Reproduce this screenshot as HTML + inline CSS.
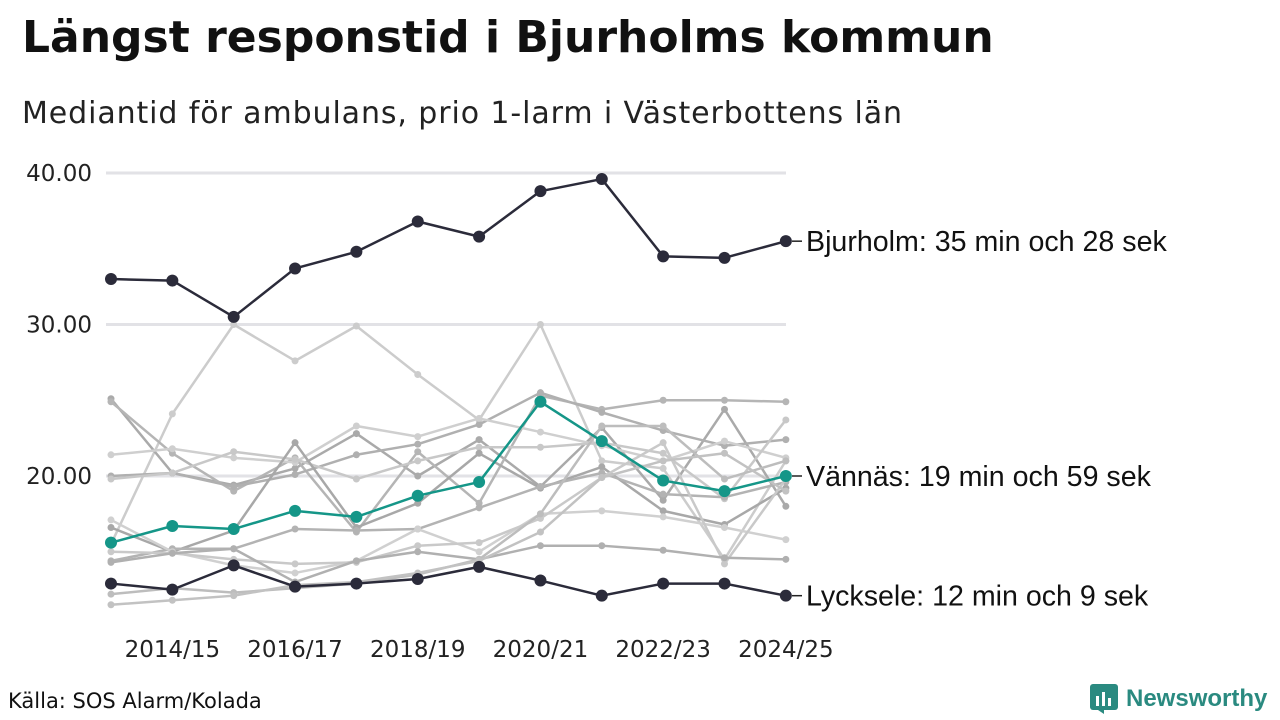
<!DOCTYPE html>
<html><head><meta charset="utf-8">
<style>
body{margin:0;width:1280px;height:720px;background:#fff;font-family:"Liberation Sans",sans-serif;overflow:hidden;position:relative}
#title{position:absolute;left:22px;top:12px;font-family:"DejaVu Sans",sans-serif;font-size:44px;font-weight:bold;color:#111;white-space:nowrap}
#sub{position:absolute;left:22px;top:96px;font-family:"DejaVu Sans",sans-serif;font-size:30px;letter-spacing:0.9px;color:#222;white-space:nowrap}
#src{position:absolute;left:8px;top:689px;font-family:"DejaVu Sans",sans-serif;font-size:21px;color:#111}
#logo{position:absolute;left:1090px;top:684px;font-size:24px;font-weight:bold;color:#2a8a80;display:flex;align-items:center;gap:8px}
svg{position:absolute;left:0;top:0}
</style></head><body>
<div id="title">Längst responstid i Bjurholms kommun</div>
<div id="sub">Mediantid för ambulans, prio 1-larm i Västerbottens län</div>
<div id="src">Källa: SOS Alarm/Kolada</div>
<div id="logo"><svg style="position:static" width="28" height="30" viewBox="0 0 28 30"><rect x="0" y="0" width="28" height="26" rx="3" fill="#2a8a80"/><rect x="6" y="12" width="3" height="10" fill="#fff"/><rect x="12" y="8" width="3" height="14" fill="#fff"/><rect x="18" y="14" width="3" height="8" fill="#fff"/><path d="M8 26 L14 30 L14 26Z" fill="#2a8a80"/></svg><span>Newsworthy</span></div>
<svg id="chart" width="1280" height="720"></svg>
<script>
const categories=["2013/14","2014/15","2015/16","2016/17","2017/18","2018/19","2019/20","2020/21","2021/22","2022/23","2023/24","2024/25"];
const yTicks=[20,30,40];
const yTickLabels=["20.00","30.00","40.00"];
const xTickIdx=[1,3,5,7,9,11];
const bjurholm=[33.0,32.9,30.5,33.7,34.8,36.8,35.8,38.8,39.6,34.5,34.4,35.5];
const vannas=[15.6,16.7,16.5,17.7,17.3,18.7,19.6,24.9,22.3,19.7,19.0,20.0];
const lycksele=[12.9,12.5,14.1,12.7,12.9,13.2,14.0,13.1,12.1,12.9,12.9,12.1];
const g1=[15.5,24.1,30.0,27.6,29.9,26.7,23.7,30.0,21.0,20.5,14.5,21.0];
const g2=[25.1,20.2,19.4,20.5,22.8,20.0,22.4,19.3,23.2,18.4,24.4,18.0];
const g3=[24.9,21.5,19.0,21.2,16.3,21.6,18.2,25.3,24.4,25.0,25.0,24.9];
const g4=[20.0,20.2,19.3,20.1,21.4,22.1,23.4,25.5,24.2,23.0,22.0,22.4];
const g5=[21.4,21.8,21.2,20.9,23.3,22.6,23.8,22.9,22.0,21.0,22.3,21.2];
const g6=[19.8,20.2,21.6,21.1,19.8,21.0,21.9,21.9,22.2,21.5,18.5,23.7];
const g7=[16.6,15.0,16.4,22.2,16.6,18.2,21.5,19.2,20.6,17.7,16.8,19.2];
const g8=[14.4,15.2,15.2,16.5,16.4,16.5,17.9,19.3,20.2,18.8,18.6,19.6];
const g9=[17.1,15.0,14.1,13.6,14.4,16.5,15.0,17.5,17.7,17.3,16.6,15.8];
const g10=[15.0,14.9,14.5,14.2,14.3,15.4,15.6,17.2,19.9,22.2,14.2,19.8];
const g11=[14.3,14.9,15.2,13.0,14.4,15.0,14.5,15.4,15.4,15.1,14.6,14.5];
const g12=[12.2,12.6,12.3,12.6,12.9,13.5,14.5,17.5,23.3,23.3,19.8,21.0];
const g13=[11.5,11.8,12.1,12.8,13.0,13.6,14.4,16.3,19.9,21.0,21.5,19.0];
const grays=[g1,g2,g3,g4,g5,g6,g7,g8,g9,g10,g11,g12,g13];
const grayColors=["#cccccc","#aaaaaa","#b5b5b5","#b0b0b0","#cfcfcf","#c8c8c8","#a8a8a8","#b3b3b3","#d0d0d0","#c9c9c9","#b0b0b0","#bdbdbd","#c2c2c2"];
const NS="http://www.w3.org/2000/svg";
const svg=document.getElementById('chart');
const x=i=>111+i*61.35;
const y=v=>779-v*15.15;
function mk(t,a){const e=document.createElementNS(NS,t);for(const k in a)e.setAttribute(k,a[k]);svg.appendChild(e);return e;}
yTicks.forEach((t,i)=>{
  const l=mk('line',{x1:106,x2:786,y1:y(t),y2:y(t),stroke:'#e2e2e6','stroke-width':3});
  
  
  const tx=mk('text',{x:92,y:y(t)+8,'text-anchor':'end','font-size':23,fill:'#222','font-family':'DejaVu Sans, sans-serif'});
  tx.textContent=yTickLabels[i];
  
  
});
xTickIdx.forEach(i=>{
  const tx=mk('text',{x:x(i),y:657,'text-anchor':'middle','font-size':23,fill:'#222','font-family':'DejaVu Sans, sans-serif'});
  tx.textContent=categories[i];
  
  
});
function series(d,c,w,r,name){
  const p=mk('polyline',{points:d.map((v,i)=>x(i)+','+y(v)).join(' '),fill:'none',stroke:c,'stroke-width':w,'stroke-linejoin':'round'});
  
  
  d.forEach((v,i)=>{
    const ci=mk('circle',{cx:x(i),cy:y(v),r:r,fill:c});
    
    
  });
}
grays.forEach((g,k)=>series(g,grayColors[k],2.5,3.5,'other-municipality-'+(k+1)));
series(lycksele,'#2b2b3a',2.5,6,'lycksele');
series(vannas,'#159688',2.5,6,'vannas');
series(bjurholm,'#2b2b3a',2.5,6,'bjurholm');
[[bjurholm,'Bjurholm: 35 min och 28 sek'],[vannas,'Vännäs: 19 min och 59 sek'],[lycksele,'Lycksele: 12 min och 9 sek']].forEach(([d,t])=>{
  const yy=y(d[11]);
  const l=mk('line',{x1:792,x2:802,y1:yy,y2:yy,stroke:'#222','stroke-width':1.5});
  
  
  const tx=mk('text',{x:806,y:yy+10,'font-size':28.6,fill:'#111'});
  tx.textContent=t;
  
  
});
</script>
</body></html>
